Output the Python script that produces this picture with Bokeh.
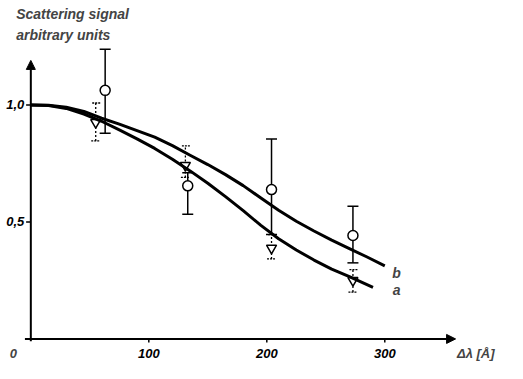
from bokeh.plotting import figure
from bokeh.models import ColumnDataSource, Whisker, TeeHead, Arrow, NormalHead, Label, Range1d
from bokeh.core.properties import value
from bokeh.embed import file_html
from bokeh.resources import INLINE

# ---- data ----
curve_a_x = [0, 15, 30, 45, 60, 75, 90, 105, 120, 135, 150, 165, 180, 195, 210, 225, 240, 255, 270, 290]
curve_a_y = [1.0, 0.997, 0.985, 0.961, 0.93, 0.893, 0.855, 0.814, 0.768, 0.718, 0.665, 0.608,
             0.548, 0.485, 0.428, 0.38, 0.337, 0.298, 0.266, 0.22]
curve_b_x = [0, 15, 30, 45, 60, 75, 90, 105, 120, 135, 150, 165, 180, 195, 210, 225, 240, 255,
             270, 285, 300]
curve_b_y = [1.0, 0.998, 0.99, 0.972, 0.943, 0.918, 0.89, 0.862, 0.826, 0.785, 0.745, 0.702,
             0.655, 0.602, 0.55, 0.503, 0.461, 0.422, 0.386, 0.35, 0.312]

circ_x = [63, 133, 204, 273]
circ_y = [1.062, 0.654, 0.638, 0.442]
circ_lo = [0.879, 0.533, 0.446, 0.325]
circ_hi = [1.238, 0.71, 0.854, 0.567]

tri_x = [55, 131, 204, 273]
tri_y = [0.925, 0.742, 0.388, 0.25]
tri_lo = [0.846, 0.69, 0.342, 0.2]
tri_hi = [1.008, 0.825, 0.446, 0.296]

x_ticks = [100, 200, 300]
x_tick_labels = ["100", "200", "300"]
y_ticks = [0.5, 1.0]
y_tick_labels = ["0,5", "1,0"]

FONT_NAME = "Liberation Sans"
FONT = value(FONT_NAME)
STYLE = "bold italic"

p = figure(width=507, height=363, output_backend="svg", toolbar_location=None,
           x_range=Range1d(-25.7, 404), y_range=Range1d(-0.105, 1.446),
           x_axis_location=None, y_axis_location=None, min_border=0)
p.grid.visible = False
p.outline_line_color = None
p.background_fill_color = "white"

# axes with arrows
p.add_layout(Arrow(x_start=-5, y_start=0, x_end=360, y_end=0, line_width=2, line_color="black",
                   end=NormalHead(size=9, fill_color="black", line_color="black", line_width=1)))
p.add_layout(Arrow(x_start=0, y_start=-0.01, x_end=0, y_end=1.19, line_width=2, line_color="black",
                   end=NormalHead(size=9, fill_color="black", line_color="black", line_width=1)))

p.segment(x0=x_ticks, y0=[0] * len(x_ticks), x1=x_ticks, y1=[-0.015] * len(x_ticks),
          line_color="black", line_width=1.5)
p.segment(x0=[-4] * len(y_ticks), y0=y_ticks, x1=[0] * len(y_ticks), y1=y_ticks,
          line_color="black", line_width=1.5)

p.text(x=x_ticks, y=[-0.0625] * len(x_ticks), text=x_tick_labels, text_font=FONT,
       text_font_style=STYLE, text_font_size="13px", text_align="center",
       text_baseline="middle", text_color="black")
p.text(x=[-5.5] * len(y_ticks), y=y_ticks, text=y_tick_labels, text_font=FONT,
       text_font_style=STYLE, text_font_size="13px", text_align="right",
       text_baseline="middle", text_color="black")
p.add_layout(Label(x=-14.9, y=-0.0625, text="0", text_font=FONT_NAME,
                   text_font_style=STYLE, text_font_size="13px", text_baseline="middle",
                   text_align="center"))
p.add_layout(Label(x=393, y=-0.0625, text="Δλ [Å]", text_font=FONT_NAME,
                   text_font_style=STYLE, text_font_size="13px", text_baseline="middle",
                   text_align="right"))

# axis title
p.add_layout(Label(x=-12.4, y=1.388, text="Scattering signal", text_font=FONT_NAME,
                   text_font_style=STYLE, text_font_size="14px", text_baseline="alphabetic"))
p.add_layout(Label(x=-12.4, y=1.300, text="arbitrary  units", text_font=FONT_NAME,
                   text_font_style=STYLE, text_font_size="14px", text_baseline="alphabetic"))

# error bars
csrc = ColumnDataSource(dict(x=circ_x, y=circ_y, lo=circ_lo, hi=circ_hi))
tsrc = ColumnDataSource(dict(x=tri_x, y=tri_y, lo=tri_lo, hi=tri_hi))

p.add_layout(Whisker(source=csrc, base="x", lower="lo", upper="hi", dimension="height",
                     line_width=1.5, line_color="black", level="underlay",
                     upper_head=TeeHead(size=11, line_width=1.5, line_color="black"),
                     lower_head=TeeHead(size=11, line_width=1.5, line_color="black")))
p.add_layout(Whisker(source=tsrc, base="x", lower="lo", upper="hi", dimension="height",
                     line_width=1.3, line_color="black", line_dash="2 2", level="underlay",
                     upper_head=TeeHead(size=9, line_width=1.3, line_color="black", line_dash="2 1"),
                     lower_head=TeeHead(size=9, line_width=1.3, line_color="black", line_dash="2 1")))

p.scatter("x", "y", source=csrc, marker="circle", size=10, fill_color="white",
          line_color="black", line_width=1.5)
p.scatter("x", "y", source=tsrc, marker="inverted_triangle", size=10, fill_color="white",
          line_color="black", line_width=1.5)

# curves
p.line(curve_a_x, curve_a_y, line_width=3, line_color="black", line_join="round")
p.line(curve_b_x, curve_b_y, line_width=3, line_color="black", line_join="round")

p.add_layout(Label(x=310, y=0.283, text="b", text_font=FONT_NAME, text_font_style=STYLE,
                   text_font_size="14px", text_baseline="middle", text_align="center"))
p.add_layout(Label(x=310, y=0.208, text="a", text_font=FONT_NAME, text_font_style=STYLE,
                   text_font_size="14px", text_baseline="middle", text_align="center"))

open("out.html", "w").write(file_html(p, INLINE))
